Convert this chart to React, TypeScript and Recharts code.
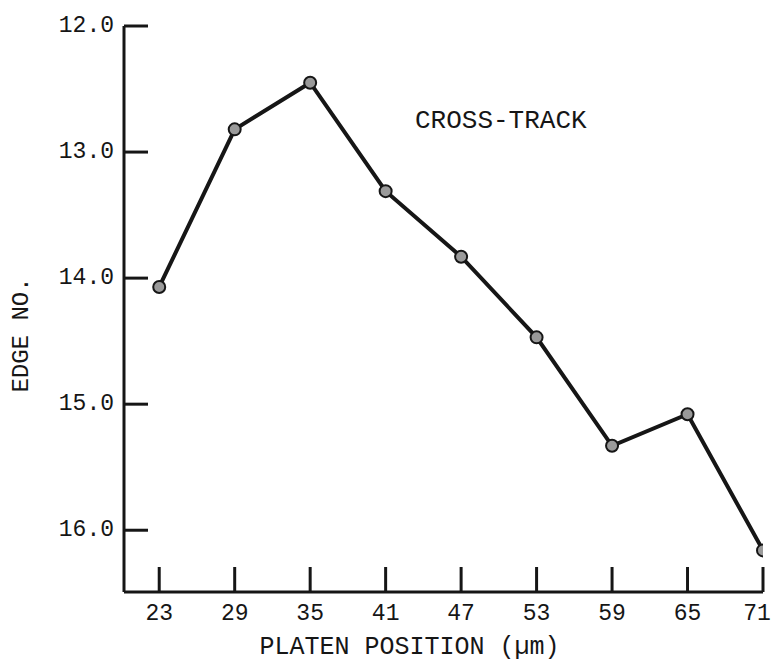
import { LineChart, Line, XAxis, YAxis, Label } from 'recharts'

// platen position (µm) vs. cross-track edge number
const POSITIONS = [23, 29, 35, 41, 47, 53, 59, 65, 71]
const EDGE_NO = [14.07, 12.82, 12.45, 13.31, 13.83, 14.47, 15.33, 15.08, 16.16]
const X_TICKS = [23, 29, 35, 41, 47, 53, 59, 65, 71]
const Y_TICKS = [12, 13, 14, 15, 16]
const Y_LABELS = ['12.0', '13.0', '14.0', '15.0', '16.0']

const FONT = '"Liberation Mono", "DejaVu Sans Mono", monospace'
const INK = '#161616'

const data = POSITIONS.map((p, i) => ({ pos: p, edge: EDGE_NO[i] }))

const XTick = ({ x, y, payload }: any) => (
  <g>
    <line x1={x} y1={y} x2={x} y2={y - 25} stroke={INK} strokeWidth={3} />
    {/* keep the last label inside the frame */}
    <text x={Math.min(x, 757)} y={y + 22} textAnchor="middle" dominantBaseline="middle"
      fontFamily={FONT} fontSize={23} fill={INK}>
      {payload.value}
    </text>
  </g>
)

const YTick = ({ x, y, payload }: any) => {
  const idx = Y_TICKS.indexOf(payload.value)
  return (
    <g>
      <line x1={x} y1={y} x2={x + 24} y2={y} stroke={INK} strokeWidth={3} />
      <text x={x - 10} y={y} textAnchor="end" dominantBaseline="middle"
        fontFamily={FONT} fontSize={23} fill={INK}>
        {Y_LABELS[idx]}
      </text>
    </g>
  )
}

const XTitle = ({ viewBox }: any) => (
  <text x={viewBox.x + viewBox.width / 2 - 34} y={viewBox.y + 55}
    textAnchor="middle" dominantBaseline="middle"
    fontFamily={FONT} fontSize={25} fill={INK}>
    PLATEN POSITION (µm)
  </text>
)

const YTitle = ({ viewBox }: any) => {
  const cx = 22
  const cy = viewBox.y + viewBox.height / 2 + 26
  return (
    <text x={cx} y={cy} transform={`rotate(-90, ${cx}, ${cy})`}
      textAnchor="middle" dominantBaseline="middle"
      fontFamily={FONT} fontSize={24} fill={INK}>
      EDGE NO.
    </text>
  )
}

export default function App() {
  return (
    <div style={{ position: 'relative', width: 776, height: 666, background: '#fff' }}>
      <style>{'body{margin:0}'}</style>
      <LineChart width={776} height={666} data={data}
        margin={{ top: 26, right: 13, bottom: 0, left: 0 }}>
        <XAxis dataKey="pos" type="number" domain={[20.2, 71]} ticks={X_TICKS}
          height={74} tickSize={0} tickMargin={0} tick={<XTick />}
          axisLine={{ stroke: INK, strokeWidth: 3 }} allowDataOverflow>
          <Label content={<XTitle />} />
        </XAxis>
        <YAxis type="number" domain={[12, 16.49]} reversed ticks={Y_TICKS}
          width={124} tickSize={0} tickMargin={0} tick={<YTick />}
          axisLine={{ stroke: INK, strokeWidth: 3 }} allowDataOverflow>
          <Label content={<YTitle />} />
        </YAxis>
        <Line type="linear" dataKey="edge" stroke={INK} strokeWidth={4}
          dot={{ r: 6, fill: '#9a9a9a', stroke: INK, strokeWidth: 2 }}
          isAnimationActive={false} />
      </LineChart>
      <div style={{ position: 'absolute', left: 415, top: 107, fontFamily: FONT,
        fontSize: 26, lineHeight: '28px', color: INK, whiteSpace: 'nowrap' }}>
        CROSS-TRACK
      </div>
    </div>
  )
}
